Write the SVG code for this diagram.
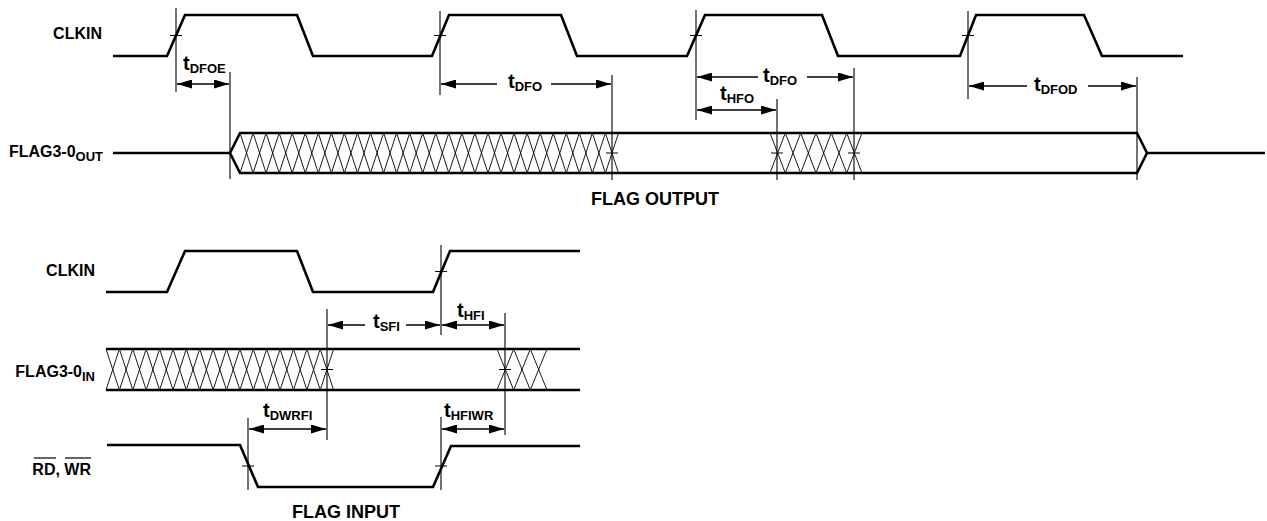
<svg xmlns="http://www.w3.org/2000/svg" width="1267" height="521" viewBox="0 0 1267 521">
<style>
.sig{fill:none;stroke:#000;stroke-width:2.6;stroke-linejoin:miter}
.hatch{fill:none;stroke:#000;stroke-width:0.9}
.ref{fill:none;stroke:#000;stroke-width:1.1}
.dim{fill:none;stroke:#000;stroke-width:1.4}
.ol{stroke:#000;stroke-width:1.2}
text{font-family:"Liberation Sans",Arial,Helvetica,sans-serif;font-weight:bold;fill:#000}
.lbl{font-size:16px}
.t{font-size:20px}
.sub{font-size:13px}
.title{font-size:18px}
</style>
<defs>
<marker id="ah" markerUnits="userSpaceOnUse" markerWidth="15" markerHeight="9" refX="15" refY="4.5" orient="auto-start-reverse">
<path d="M0,0 L15,4.5 L0,9 z" fill="#000"/>
</marker>
</defs>
<rect width="1267" height="521" fill="#fff"/>

<g id="clkin-top">
<text class="lbl" x="102" y="39" text-anchor="end">CLKIN</text>
<path class="sig" d="M113,56 L167,56 L185,15 L297,15 L313,56 L432,56 L449,15 L561,15 L577,56 L687,56 L705,15 L822,15 L838,56 L960,56 L976,15 L1084,15 L1102,56 L1183,56"/>
</g>

<g id="flag-out">
<text class="lbl" x="103" y="157" text-anchor="end">FLAG3-0<tspan class="sub" dy="4">OUT</tspan></text>
<path class="sig" d="M113,153 L230,153 L240,133 L1137,133 L1147,153 L1265,153 M230,153 L240,173 L1137,173 L1147,153"/>
<path class="hatch" d="M240,133 L253.1,173 L266.1,133 L279.2,173 L292.2,133 L305.3,173 L318.3,133 L331.4,173 L344.4,133 L357.5,173 L370.5,133 L383.6,173 L396.6,133 L409.7,173 L422.7,133 L435.8,173 L448.8,133 L461.9,173 L474.9,133 L488,173 L501,133 L514.1,173 L527.1,133 L540.2,173 L553.2,133 L566.3,173 L579.3,133 L592.4,173 L605.4,133 L618.5,173"/>
<path class="hatch" d="M240,173 L253.1,133 L266.1,173 L279.2,133 L292.2,173 L305.3,133 L318.3,173 L331.4,133 L344.4,173 L357.5,133 L370.5,173 L383.6,133 L396.6,173 L409.7,133 L422.7,173 L435.8,133 L448.8,173 L461.9,133 L474.9,173 L488,133 L501,173 L514.1,133 L527.1,173 L540.2,133 L553.2,173 L566.3,133 L579.3,173 L592.4,133 L605.4,173 L618.5,133"/>
<path class="hatch" d="M770,133 L785.3,173 L800.7,133 L816,173 L831.3,133 L846.7,173 L862,133 M770,173 L785.3,133 L800.7,173 L816,133 L831.3,173 L846.7,133 L862,173"/>
<text class="title" x="655" y="205" text-anchor="middle">FLAG OUTPUT</text>
</g>

<g id="clkin-bottom">
<text class="lbl" x="95" y="276" text-anchor="end">CLKIN</text>
<path class="sig" d="M106,292 L167,292 L185,251 L297,251 L313,292 L433,292 L450,251 L580,251"/>
</g>

<g id="flag-in">
<text class="lbl" x="95" y="377" text-anchor="end">FLAG3-0<tspan class="sub" dy="4">IN</tspan></text>
<path class="sig" d="M106,349 L580,349 M106,390 L580,390"/>
<path class="hatch" d="M106,349 L119.4,390 L132.8,349 L146.2,390 L159.6,349 L173,390 L186.3,349 L199.7,390 L213.1,349 L226.5,390 L239.9,349 L253.3,390 L266.7,349 L280.1,390 L293.5,349 L306.9,390 L320.2,349 L333.6,390"/>
<path class="hatch" d="M106,390 L119.4,349 L132.8,390 L146.2,349 L159.6,390 L173,349 L186.3,390 L199.7,349 L213.1,390 L226.5,349 L239.9,390 L253.3,349 L266.7,390 L280.1,349 L293.5,390 L306.9,349 L320.2,390 L333.6,349"/>
<path class="hatch" d="M497,349 L513.7,390 L530.3,349 L547,390 M497,390 L513.7,349 L530.3,390 L547,349"/>
</g>

<g id="rd-wr">
<text class="lbl" x="91" y="475" text-anchor="end">RD, WR</text>
<line class="ol" x1="34" y1="458" x2="56" y2="458"/>
<line class="ol" x1="65" y1="458" x2="91" y2="458"/>
<path class="sig" d="M107,445 L240,445 L258,487 L433,487 L451,446 L580,446"/>
<text class="title" x="346" y="518" text-anchor="middle">FLAG INPUT</text>
</g>

<g id="connectors">
<path class="ref" d="M176,8 V92 M230,72 V179 M440,11 V95 M612,75 V180 M696,10 V120 M777,99 V180 M854,68 V180 M968,11 V99 M1137,77 V180"/>
<path class="ref" d="M170,35.5 H182 M434,35.5 H446 M690,35.5 H702 M962,35.5 H974 M606,153 H618 M771,153 H783 M848,153 H860"/>
<path class="ref" d="M441,245 V335 M327,309 V440 M505,313 V435 M248,418 V490 M441,417 V490"/>
<path class="ref" d="M435,271.5 H447 M321,369.5 H333 M499,369.5 H511 M242,466 H254 M435,466 H447"/>

<line class="dim" x1="177" y1="84" x2="229" y2="84" marker-start="url(#ah)" marker-end="url(#ah)"/>
<line class="dim" x1="497" y1="84" x2="441" y2="84" marker-end="url(#ah)"/>
<line class="dim" x1="551" y1="84" x2="611" y2="84" marker-end="url(#ah)"/>
<line class="dim" x1="758" y1="77" x2="697" y2="77" marker-end="url(#ah)"/>
<line class="dim" x1="807" y1="77" x2="853" y2="77" marker-end="url(#ah)"/>
<line class="dim" x1="697" y1="110" x2="776" y2="110" marker-start="url(#ah)" marker-end="url(#ah)"/>
<line class="dim" x1="1027" y1="86" x2="969" y2="86" marker-end="url(#ah)"/>
<line class="dim" x1="1088" y1="86" x2="1136" y2="86" marker-end="url(#ah)"/>
<line class="dim" x1="365" y1="325" x2="328" y2="325" marker-end="url(#ah)"/>
<line class="dim" x1="406" y1="325" x2="440" y2="325" marker-end="url(#ah)"/>
<line class="dim" x1="442" y1="325" x2="504" y2="325" marker-start="url(#ah)" marker-end="url(#ah)"/>
<line class="dim" x1="249" y1="429" x2="326" y2="429" marker-start="url(#ah)" marker-end="url(#ah)"/>
<line class="dim" x1="442" y1="429" x2="504" y2="429" marker-start="url(#ah)" marker-end="url(#ah)"/>

<text class="t" x="183" y="70">t<tspan class="sub" dy="3">DFOE</tspan></text>
<text class="t" x="508" y="88">t<tspan class="sub" dy="3">DFO</tspan></text>
<text class="t" x="763" y="82">t<tspan class="sub" dy="3">DFO</tspan></text>
<text class="t" x="720" y="100">t<tspan class="sub" dy="3">HFO</tspan></text>
<text class="t" x="1034" y="91">t<tspan class="sub" dy="3">DFOD</tspan></text>
<text class="t" x="373" y="328">t<tspan class="sub" dy="3">SFI</tspan></text>
<text class="t" x="457" y="317">t<tspan class="sub" dy="3">HFI</tspan></text>
<text class="t" x="263" y="417">t<tspan class="sub" dy="3">DWRFI</tspan></text>
<text class="t" x="444" y="417">t<tspan class="sub" dy="3">HFIWR</tspan></text>
</g>
</svg>
